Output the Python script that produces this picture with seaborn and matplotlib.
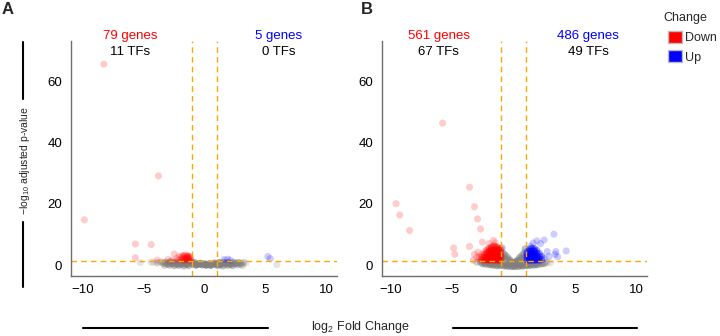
import pandas as pd
import matplotlib
matplotlib.use("Agg")
import matplotlib.pyplot as plt
import seaborn as sns
from matplotlib.lines import Line2D
from matplotlib.patches import Patch

# ---------- panel A : points (x = log2FC, y = -log10 padj, n = stacked genes)
a_down_x = [-8.3, -9.9, -3.8, -5.7, -4.4, -5.7, -3.9, -2.5, -3.0, -2.7, -2.3, -2.2, -2.1, -2.0,
            -1.9, -1.85, -1.8, -1.75, -1.7, -1.65, -1.6, -1.55, -1.5, -1.45, -1.4, -1.35,
            -1.3, -1.25, -1.2, -1.15, -1.1]
a_down_y = [65.8, 14.8, 29.2, 6.9, 6.7, 2.4, 1.6, 3.6, 1.8, 1.5, 2.2, 1.6, 2.8, 1.9,
            2.5, 3.1, 1.7, 2.2, 2.9, 1.5, 3.3, 2.0, 2.6, 1.7, 3.0, 2.3,
            1.6, 2.8, 1.9, 2.4, 1.5]
a_down_n = [1, 1, 1, 1, 1, 1, 1, 1, 1, 1, 1, 1, 1, 1,
            1, 1, 2, 1, 2, 1, 1, 2, 2, 1, 2, 2,
            1, 2, 1, 1, 1]

a_up_x = [5.2, 5.4, 1.6, 1.9, 2.1]
a_up_y = [2.8, 2.1, 1.8, 1.9, 1.6]
a_up_n = [1, 1, 1, 1, 1]

a_ns_x = [-5.3, 5.95, -4.4, -4.2, -3.9, -3.6, -3.4, -3.2, -3.0, -2.8, -2.6, -2.4, -2.2, -2.0,
          -1.8, -1.6, -1.4, -1.2, -1.0, -0.8, -0.6, -0.4, -0.2, 0.0, 0.2, 0.4, 0.6, 0.8,
          1.0, 1.2, 1.4, 1.6, 1.8, 2.0, 2.2, 2.4, 2.6, 2.8, 3.0, 3.2, 3.4,
          -3.1, -2.7, -2.3, -1.9, -1.5, -1.1, -0.7, -0.3, 0.1, 0.5, 0.9, 1.3, 1.7, 2.1,
          2.5, 2.9,
          -3.3, -2.9, -2.5, -2.1, -1.7, -1.3, 1.1, 1.5, 1.9, 2.3, 2.7, 3.1]
a_ns_y = [0.8, 0.1, 0.9, 0.9, 0.7, 1.0, 0.6, 0.9, 0.5, 1.0, 0.6, 0.9, 0.4, 0.8,
          0.5, 0.9, 0.4, 0.8, 0.3, 0.7, 0.2, 0.4, 0.1, 0.3, 0.1, 0.4, 0.2, 0.6,
          0.3, 0.8, 0.4, 0.9, 0.5, 0.8, 0.4, 0.9, 0.5, 0.8, 0.5, 0.8, 0.6,
          0.3, 0.4, 0.2, 0.3, 0.2, 0.9, 0.0, 0.5, 0.0, -0.1, 0.2, 0.1, 0.3, 0.2,
          0.4, 0.3,
          -0.1, 0.0, -0.2, -0.1, -0.3, -0.2, -0.2, -0.3, -0.1, -0.2, 0.0, -0.1]
a_ns_n = [1, 1, 1, 1, 2, 2, 3, 3, 3, 4, 4, 4, 4, 5,
          5, 5, 5, 5, 5, 5, 6, 6, 6, 6, 6, 6, 5, 5,
          5, 5, 5, 4, 4, 4, 4, 3, 3, 3, 2, 2, 1,
          3, 4, 4, 5, 5, 5, 6, 6, 6, 6, 5, 5, 4, 4,
          3, 3,
          2, 3, 3, 3, 3, 3, 3, 3, 3, 3, 2, 2]

# ---------- panel B
b_down_x = [-9.6, -9.3, -8.5, -5.8, -3.6, -3.2, -2.95, -2.7, -2.55, -3.6, -4.9, -4.8, -1.65,
            -2.0, -3.3, -3.0, -3.2, -2.9, -1.5,
            -2.8, -2.8, -2.6, -2.6, -2.6, -2.4, -2.4, -2.4, -2.4, -2.2, -2.2, -2.2, -2.2,
            -2.0, -2.0, -2.0, -2.0, -2.0, -1.8, -1.8, -1.8, -1.8, -1.8, -1.6, -1.6, -1.6,
            -1.6, -1.6, -1.4, -1.4, -1.4, -1.4, -1.4, -1.2, -1.2, -1.2, -1.2, -1.2,
            -1.05, -1.05, -1.05, -1.05]
b_down_y = [20.1, 16.4, 11.3, 46.5, 25.5, 19.1, 15.1, 11.8, 7.5, 6.1, 5.6, 3.5, 8.1,
            7.0, 1.6, 2.6, 3.5, 4.2, 7.3,
            1.8, 2.7, 1.7, 2.6, 3.5, 1.6, 2.5, 3.4, 4.3, 1.7, 2.8, 3.9, 4.9,
            1.6, 2.6, 3.6, 4.6, 5.5, 1.7, 2.8, 3.9, 4.9, 5.9, 1.6, 2.7, 3.8,
            4.9, 6.2, 1.7, 2.8, 3.9, 5.0, 5.9, 1.6, 2.7, 3.8, 4.8, 5.5,
            1.8, 2.9, 4.0, 5.0]
b_down_n = [1, 1, 1, 1, 1, 1, 1, 1, 1, 1, 1, 1, 1,
            1, 1, 1, 1, 1, 1,
            1, 1, 2, 2, 1, 3, 3, 2, 1, 4, 4, 3, 2,
            4, 4, 4, 4, 2, 4, 4, 4, 4, 3, 4, 4, 4,
            4, 3, 4, 4, 4, 4, 3, 4, 4, 4, 4, 3,
            3, 3, 3, 2]

b_up_x = [3.3, 2.5, 1.9, 2.2, 1.6, 2.75, 3.45, 4.3, 3.6, 3.4, 2.9, 1.4,
          1.1, 1.1, 1.1, 1.1, 1.3, 1.3, 1.3, 1.3, 1.3, 1.5, 1.5, 1.5, 1.5, 1.5,
          1.7, 1.7, 1.7, 1.7, 1.7, 1.9, 1.9, 1.9, 1.9, 2.1, 2.1, 2.1, 2.3, 2.3, 2.5]
b_up_y = [10.1, 8.2, 7.9, 7.0, 7.2, 4.4, 4.4, 4.6, 2.7, 3.5, 2.8, 6.2,
          1.7, 2.7, 3.6, 4.4, 1.6, 2.6, 3.6, 4.5, 5.2, 1.7, 2.7, 3.7, 4.6, 5.5,
          1.6, 2.6, 3.6, 4.6, 5.4, 1.7, 2.7, 3.8, 4.8, 1.6, 2.7, 3.8, 1.8, 2.9, 2.2]
b_up_n = [1, 1, 1, 1, 1, 1, 1, 1, 1, 1, 1, 1,
          3, 3, 3, 2, 4, 4, 4, 3, 2, 4, 4, 4, 4, 3,
          4, 4, 4, 4, 2, 4, 4, 3, 2, 3, 3, 2, 2, 2, 1]

b_ns_x = [-3.0, -2.7, -2.4, -2.1, -1.8, -1.5, -1.2, -0.9, -0.6, -0.3, 0.0, 0.3, 0.6, 0.9,
          1.2, 1.5, 1.8, 2.1, 2.4, 2.7, 3.0,
          -2.55, -2.25, -1.95, -1.65, -1.35, -1.05, -0.75, -0.45, -0.15, 0.15, 0.45,
          0.75, 1.05, 1.35, 1.65, 1.95, 2.25, 2.55,
          -0.95, -0.95, -0.85, -0.8, -0.7, -0.6, -0.5, -0.4, -0.3, -0.2, -0.1,
          0.1, 0.2, 0.3, 0.4, 0.5, 0.6, 0.7, 0.8, 0.85, 0.95, 0.95]
b_ns_y = [0.9, 1.0, 0.6, 0.9, 0.4, 0.7, 0.2, 0.5, 0.0, 0.2, -0.2, 0.1, 0.0, 0.4,
          0.2, 0.6, 0.3, 0.8, 0.5, 0.9, 0.7,
          0.4, 0.3, 0.1, 0.0, -0.2, -0.1, -0.3, -0.4, -0.5, -0.5, -0.4,
          -0.3, -0.2, -0.1, 0.0, 0.1, 0.3, 0.5,
          5.6, 2.2, 3.9, 2.6, 3.3, 2.0, 2.6, 1.5, 1.7, 1.0, 0.8,
          0.9, 1.1, 1.6, 1.4, 2.5, 2.0, 3.2, 2.4, 3.9, 5.3, 2.2]
b_ns_n = [2, 3, 4, 5, 5, 5, 5, 5, 5, 5, 5, 5, 5, 5,
          5, 5, 5, 4, 3, 2, 1,
          3, 4, 5, 5, 5, 5, 5, 5, 5, 5, 5,
          5, 5, 5, 5, 4, 3, 2,
          3, 3, 3, 3, 3, 3, 3, 3, 3, 3, 3,
          3, 3, 3, 3, 3, 3, 3, 3, 3, 3, 3]

# counts shown above the panels
a_labels = ["79 genes", "11 TFs", "5 genes", "0 TFs"]
b_labels = ["561 genes", "67 TFs", "486 genes", "49 TFs"]


def make_df(down, up, ns):
    parts = []
    for name, (xs, ys, ns_) in [("NS", ns), ("Down", down), ("Up", up)]:
        d = pd.DataFrame({"lfc": xs, "nlp": ys, "n": ns_})
        d["change"] = name
        parts.append(d)
    df = pd.concat(parts, ignore_index=True)
    return df.loc[df.index.repeat(df["n"])].reset_index(drop=True)


df_a = make_df((a_down_x, a_down_y, a_down_n), (a_up_x, a_up_y, a_up_n), (a_ns_x, a_ns_y, a_ns_n))
df_b = make_df((b_down_x, b_down_y, b_down_n), (b_up_x, b_up_y, b_up_n), (b_ns_x, b_ns_y, b_ns_n))

sns.set_style("white")
plt.rcParams["font.family"] = ["Liberation Sans", "DejaVu Sans"]
plt.rcParams["mathtext.default"] = "regular"

W, H = 720, 336
fig = plt.figure(figsize=(7.2, 3.36), dpi=100)
ax_a = fig.add_axes([71 / W, 1 - 276 / H, 266 / W, 235 / H])
ax_b = fig.add_axes([382 / W, 1 - 276 / H, 265 / W, 235 / H])

pal = {"NS": "#7f7f7f", "Down": "red", "Up": "blue"}

for ax, df, labs, xl in [(ax_a, df_a, a_labels, (-11.0, 10.9)),
                         (ax_b, df_b, b_labels, (-10.75, 10.9))]:
    sns.scatterplot(data=df, x="lfc", y="nlp", hue="change", palette=pal,
                    hue_order=["NS", "Down", "Up"], alpha=0.2, s=26, linewidth=0,
                    legend=False, ax=ax)
    ax.set_xlim(*xl)
    ax.set_ylim(-3.6, 73.4)
    ax.set_xticks([-10, -5, 0, 5, 10])
    ax.set_yticks([0, 20, 40, 60])
    ax.set_xlabel("")
    ax.set_ylabel("")
    for v in (-1, 1):
        ax.axvline(v, color="#ffa500", lw=1.0, ls=(0, (4, 3)))
    ax.axhline(1.3, color="#ffa500", lw=1.0, ls=(0, (4, 3)))
    sns.despine(ax=ax)
    for sp in ("left", "bottom"):
        ax.spines[sp].set_color("#6e6e6e")
        ax.spines[sp].set_linewidth(1.0)
    ax.tick_params(axis="both", labelsize=9.5, length=2.5, width=0.6, color="#6e6e6e",
                   labelcolor="black", pad=3)
    ax.tick_params(axis="y", pad=4)
    ax.text(-6.1, 75.2, labs[0], color="red", ha="center", va="center", fontsize=9.5, clip_on=False)
    ax.text(-6.1, 69.9, labs[1], color="black", ha="center", va="center", fontsize=9.5, clip_on=False)
    ax.text(6.1, 75.2, labs[2], color="blue", ha="center", va="center", fontsize=9.5, clip_on=False)
    ax.text(6.1, 69.9, labs[3], color="black", ha="center", va="center", fontsize=9.5, clip_on=False)

# panel letters
fig.text(2 / W, 1 - 10 / H, "A", fontsize=12, fontweight="bold", va="center", ha="left")
fig.text(361 / W, 1 - 10 / H, "B", fontsize=12, fontweight="bold", va="center", ha="left")

# shared axis labels with the bars beside them
fig.text(25 / W, 1 - 160 / H, "\u2212log$_{10}$ adjusted p-value", rotation=90,
         ha="center", va="center", fontsize=7.5)
fig.add_artist(Line2D([23 / W, 23 / W], [1 - 42 / H, 1 - 99 / H], color="black", lw=1.5))
fig.add_artist(Line2D([23 / W, 23 / W], [1 - 222 / H, 1 - 287 / H], color="black", lw=1.5))

fig.text(360 / W, 1 - 327 / H, "log$_2$ Fold Change", ha="center", va="center", fontsize=9)
fig.add_artist(Line2D([83 / W, 268 / W], [1 - 328 / H, 1 - 328 / H], color="black", lw=1.5))
fig.add_artist(Line2D([453 / W, 637 / W], [1 - 328 / H, 1 - 328 / H], color="black", lw=1.5))

# legend: title placed by hand so the keys sit indented under it
fig.text(663 / W, 1 - 18 / H, "Change", fontsize=9, ha="left", va="center")
handles = [Patch(facecolor="red", edgecolor="#bbbbbb", label="Down"),
           Patch(facecolor="blue", edgecolor="#bbbbbb", label="Up")]
fig.legend(handles=handles, loc="upper left",
           bbox_to_anchor=(668 / W, 1 - 31 / H), frameon=False, fontsize=9,
           handlelength=1.15, handleheight=1.15, handletextpad=0.2,
           labelspacing=0.45, borderaxespad=0, borderpad=0)

fig.savefig("out.png", dpi=100)
